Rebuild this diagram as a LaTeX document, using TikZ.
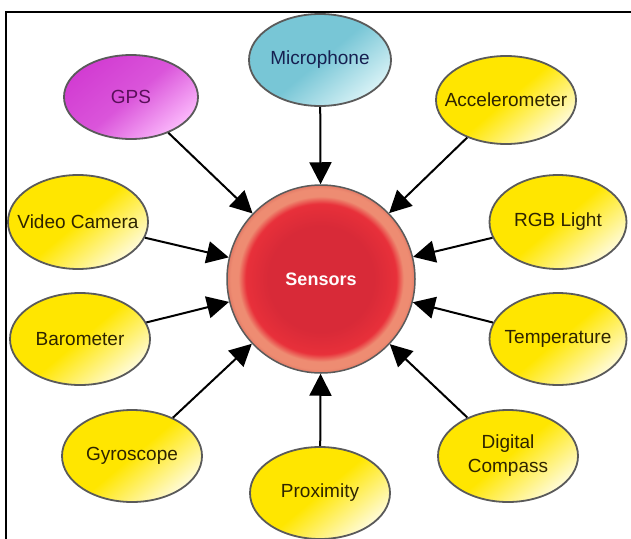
\documentclass[tikz,border=0pt]{standalone}
\usepackage{fontspec}
\setmainfont{Liberation Sans}
\usetikzlibrary{shapes.geometric,arrows.meta}
\definecolor{ylw}{HTML}{FFE600}
\definecolor{ylwl}{HTML}{FFFBD8}
\definecolor{ylwtxt}{HTML}{2E2400}
\definecolor{mag}{HTML}{D23CD2}
\definecolor{magl}{HTML}{FBB8FB}
\definecolor{magtxt}{HTML}{5A0F5A}
\definecolor{cyn}{HTML}{78C6D6}
\definecolor{cynl}{HTML}{D8F2F6}
\definecolor{cyntxt}{HTML}{162050}
\definecolor{sred}{HTML}{D82A38}
\definecolor{sred2}{HTML}{E8303A}
\definecolor{salm}{HTML}{EE8C72}
\definecolor{salm2}{HTML}{E27A66}
\definecolor{edgec}{HTML}{5A5A5A}
\pgfdeclareradialshading{sensorshade}{\pgfpoint{0bp}{0bp}}{color(0bp)=(sred); color(14bp)=(sred); color(20bp)=(sred2); color(22bp)=(salm); color(24bp)=(salm); color(25bp)=(salm2); color(50bp)=(salm2)}
\tikzset{
  lbl/.style={inner sep=0pt, align=center, font=\fontsize{19}{24}\selectfont},
  bubble/.style={ellipse, inner sep=0pt, minimum width=140pt, minimum height=92pt,
    draw=edgec, line width=1.8pt},
  yel/.style={bubble, top color=ylw, bottom color=ylwl, middle color=ylw, shading angle=40},
  pink/.style={bubble, top color=mag, bottom color=magl, middle color=mag!80!magl, shading angle=40},
  teal/.style={bubble, top color=cyn, bottom color=cynl, middle color=cyn, shading angle=40},
  ytxt/.style={lbl, text=ylwtxt},
  hub/.style={circle, inner sep=0pt, minimum size=188pt, draw=edgec, line width=1.5pt,
    shade, shading=sensorshade, text=white!95!pink,
    font=\fontsize{18}{20}\selectfont\bfseries},
  feed/.style={draw=black, line width=2pt, -{Triangle[length=22pt,width=22pt]}}
}
\begin{document}
\begin{tikzpicture}[x=1pt,y=-1pt]
\useasboundingbox (0,0) rectangle (631,538);
\fill[white] (0,0) rectangle (631,538);
\draw[line width=2pt] (6,540) -- (6,12) -- (633,12);
\node[hub] (sensors) at (321,279) {Sensors};
\node[teal, minimum width=142pt] (mic) at (320,60) {};
\node[pink, minimum width=134pt, minimum height=84pt] (gps) at (131,97) {};
\node[yel, minimum height=88pt] (acc) at (506,100) {};
\node[yel, minimum height=94pt] (vid) at (78,222) {};
\node[yel] (baro) at (80,339) {};
\node[yel, minimum width=137pt, minimum height=94pt] (rgb) at (558,222) {};
\node[yel, minimum width=137pt] (temp) at (558,339) {};
\node[yel] (gyro) at (132,456) {};
\node[yel] (prox) at (320,493) {};
\node[yel] (comp) at (508,456) {};
\node[lbl, text=cyntxt] (micT) at (mic) {Microphone};
\node[lbl, text=magtxt] (gpsT) at (gps) {GPS};
\node[ytxt] (accT) at (acc) {Accelerometer};
\node[ytxt] (vidT) at (vid) {Video Camera};
\node[ytxt] (baroT) at (baro) {Barometer};
\node[ytxt] (rgbT) at (rgb) {RGB Light};
\node[ytxt] (tempT) at (temp) {Temperature};
\node[ytxt] (gyroT) at (gyro) {Gyroscope};
\node[ytxt] (proxT) at (prox) {Proximity};
\node[ytxt] (compT) at (comp) {Digital\\Compass};
\foreach \n in {mic,gps,acc,vid,baro,rgb,temp,gyro,prox,comp}
  \draw[feed] (\n) -- (sensors);
\end{tikzpicture}
\end{document}
